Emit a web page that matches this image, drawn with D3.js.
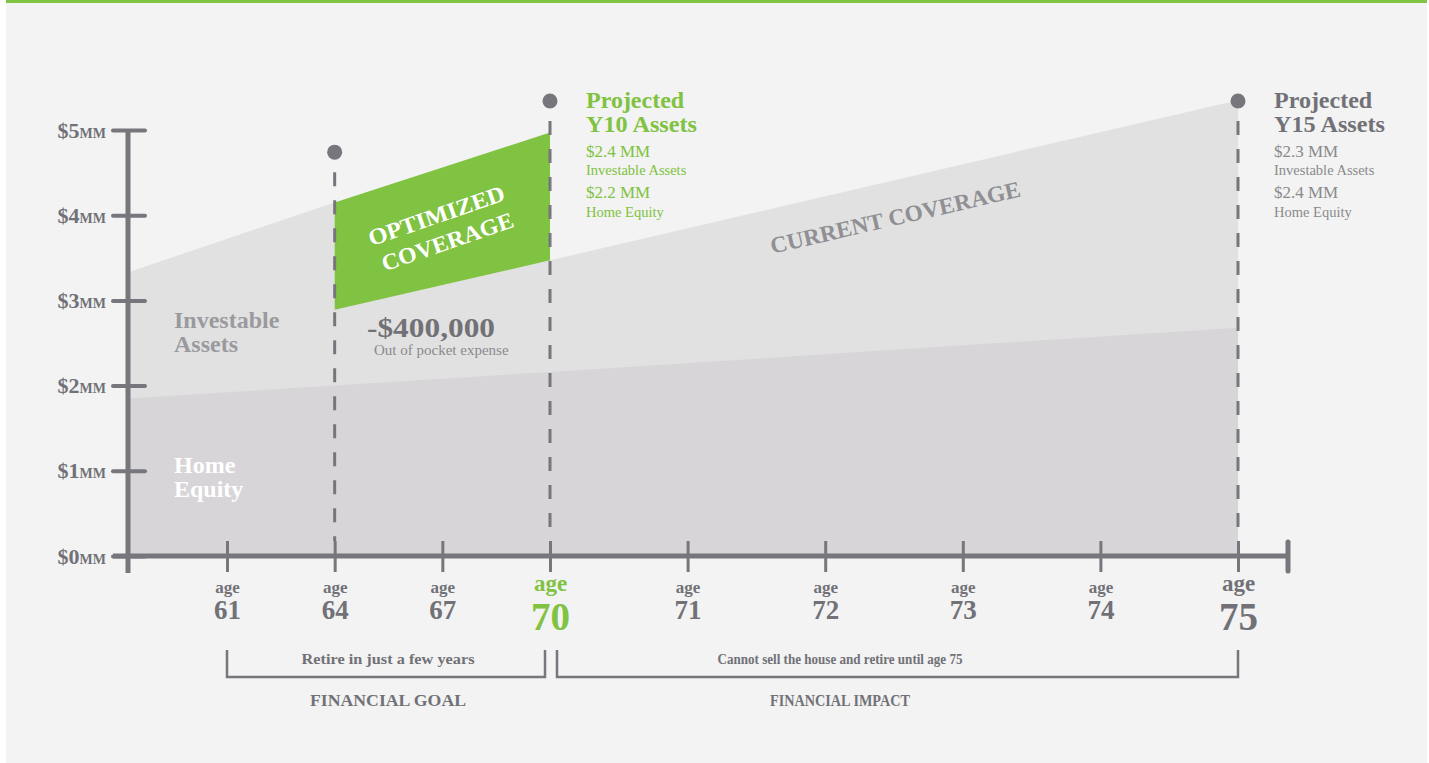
<!DOCTYPE html>
<html>
<head>
<meta charset="utf-8">
<script src="https://cdn.jsdelivr.net/npm/d3@7"></script>
<style>
  body { margin: 0; background: #ffffff; }
  svg { display: block; font-family: "Liberation Serif", "Times New Roman", serif; }
</style>
</head>
<body>
<svg id="chart" width="1429" height="763"></svg>
<script>
// ---- data ($MM by age) ----
const ages = [61, 64, 67, 70, 71, 72, 73, 74, 75];
const bigAges = [70, 75];
const yTicks = [0, 1, 2, 3, 4, 5];
const startAge = 58.25;

const homeEquity = [
  { age: 58.25, v: 1.85 },
  { age: 70, v: 2.16 },
  { age: 75, v: 2.68 }
];
const currentTotal = [
  { age: 58.25, v: 3.33 },
  { age: 64, v: 4.15 },
  { age: 70, v: 3.47 },
  { age: 75, v: 5.35 }
];
const optimized = [
  { age: 64, top: 4.15, bottom: 2.89 },
  { age: 70, top: 4.97, bottom: 3.47 }
];
const markers = [
  { age: 64, v: 4.74 },
  { age: 70, v: 5.34 },
  { age: 75, v: 5.34 }
];
const callouts = [
  { age: 70, title: ["Projected", "Y10 Assets"], items: [["$2.4 MM", "Investable Assets"], ["$2.2 MM", "Home Equity"]] },
  { age: 75, title: ["Projected", "Y15 Assets"], items: [["$2.3 MM", "Investable Assets"], ["$2.4 MM", "Home Equity"]] }
];
const brackets = [
  { from: 61, to: 70, text: "Retire in just a few years", title: "FINANCIAL GOAL" },
  { from: 70, to: 75, text: "Cannot sell the house and retire until age 75", title: "FINANCIAL IMPACT" }
];

const GREEN = "#80c241";
const AXIS = "#76767c";
const DARK = "#717177";
const SOFT = "#8a8a8e";
const FONT = '"Liberation Serif", "Times New Roman", serif';

const svg = d3.select("#chart");

// panel
svg.append("rect").attr("x", 6).attr("y", 0).attr("width", 1421).attr("height", 763).attr("fill", "#f2f3f2");
svg.append("rect").attr("x", 6).attr("y", 0).attr("width", 1421).attr("height", 3).attr("fill", GREEN);

const x = d3.scaleLinear().domain([61, 70, 75]).range([227, 550, 1238]);
const y = d3.scaleLinear().domain([0, 5]).range([556, 130]);

// areas
const area = d3.area().x(d => x(d.age)).y0(y(0)).y1(d => y(d.v));
svg.append("path").datum(currentTotal).attr("fill", "#e1e1e1").attr("d", area);
svg.append("path").datum(homeEquity).attr("fill", "#d7d5d8").attr("d", area);

const band = d3.area().x(d => x(d.age)).y0(d => y(d.bottom)).y1(d => y(d.top));
svg.append("path").datum(optimized).attr("fill", GREEN).attr("d", band);

// dashed markers
markers.forEach(m => {
  svg.append("line")
    .attr("x1", x(m.age)).attr("x2", x(m.age))
    .attr("y1", y(m.v) + 20).attr("y2", y(0) - 15)
    .attr("stroke", AXIS).attr("stroke-width", 3)
    .attr("stroke-dasharray", "14 14");
  svg.append("circle").attr("cx", x(m.age)).attr("cy", y(m.v)).attr("r", 7.5).attr("fill", AXIS);
});

// area labels
const lbl = (tx, ty, str, size, color, weight = "bold") =>
  svg.append("text").attr("x", tx).attr("y", ty).attr("font-size", size)
    .attr("font-weight", weight).attr("fill", color).text(str);

lbl(174, 328, "Investable", 24, "#9a9a9e");
lbl(174, 352, "Assets", 24, "#9a9a9e");
lbl(174, 473, "Home", 24, "#ffffff");
lbl(174, 497, "Equity", 24, "#ffffff");

lbl(367, 337, "-$400,000", 27, DARK).attr("textLength", 128).attr("lengthAdjust", "spacingAndGlyphs");
lbl(374, 355, "Out of pocket expense", 15, SOFT, "normal");

// rotated labels
[["OPTIMIZED", 439, 223, 143], ["COVERAGE", 450, 249, 138]].forEach(([s, cx, cy, w]) => {
  svg.append("text").attr("transform", `translate(${cx},${cy}) rotate(-19)`)
    .attr("text-anchor", "middle").attr("font-size", 23).attr("font-weight", "bold")
    .attr("fill", "#ffffff").attr("textLength", w).attr("lengthAdjust", "spacingAndGlyphs").text(s);
});
svg.append("text").attr("transform", "translate(897,225) rotate(-13)")
  .attr("text-anchor", "middle").attr("font-size", 23).attr("font-weight", "bold")
  .attr("fill", "#8f8f94").attr("textLength", 256).attr("lengthAdjust", "spacingAndGlyphs")
  .text("CURRENT COVERAGE");

// callouts
callouts.forEach((c, i) => {
  const cx = x(c.age) + 36;
  const main = i === 0 ? GREEN : DARK;
  const sub = i === 0 ? GREEN : SOFT;
  lbl(cx, 108, c.title[0], 24, main);
  lbl(cx, 132, c.title[1], 24, main).attr("textLength", 111).attr("lengthAdjust", "spacingAndGlyphs");
  c.items.forEach((it, j) => {
    lbl(cx, 157 + j * 41, it[0], 17, sub, "normal");
    lbl(cx, 175 + j * 42, it[1], 14.5, sub, "normal");
  });
});

// y axis
const yAxis = d3.axisLeft(y).tickValues(yTicks).tickSize(0).tickPadding(22).tickFormat("");
const gy = svg.append("g").attr("transform", `translate(128,0)`).call(yAxis)
  .attr("font-family", FONT).attr("font-size", null);
gy.select(".domain").remove();
gy.selectAll(".tick").each(function (d) {
  const t = d3.select(this);
  t.append("line").attr("x1", -15).attr("x2", 17)
    .attr("stroke", AXIS).attr("stroke-width", 4).attr("stroke-linecap", "round");
  const tx = t.append("text").attr("x", -22).attr("y", 7).attr("text-anchor", "end")
    .attr("fill", DARK).attr("font-weight", "bold");
  tx.append("tspan").attr("font-size", 22).text("$" + d);
  tx.append("tspan").attr("font-size", 14).text("MM");
});
svg.append("line").attr("x1", 128).attr("x2", 128).attr("y1", y(5)).attr("y2", 573)
  .attr("stroke", AXIS).attr("stroke-width", 5);

// x axis
svg.append("line").attr("x1", 113).attr("x2", 1288).attr("y1", y(0)).attr("y2", y(0))
  .attr("stroke", AXIS).attr("stroke-width", 5);
svg.append("line").attr("x1", 1288).attr("x2", 1288).attr("y1", 542).attr("y2", 571)
  .attr("stroke", AXIS).attr("stroke-width", 5).attr("stroke-linecap", "round");

const xAxis = d3.axisBottom(x).tickValues(ages).tickSize(0).tickFormat("");
const gx = svg.append("g").attr("transform", `translate(0,${y(0)})`).call(xAxis)
  .attr("font-family", FONT).attr("font-size", null);
gx.select(".domain").remove();
gx.selectAll(".tick").each(function (d) {
  const t = d3.select(this);
  const big = bigAges.includes(d);
  const col = d === 70 ? GREEN : DARK;
  t.append("line").attr("y1", -15).attr("y2", 16).attr("stroke", AXIS).attr("stroke-width", 3);
  t.append("text").attr("y", big ? 35 : 37).attr("text-anchor", "middle").attr("font-weight", "bold")
    .attr("font-size", big ? 23 : 17).attr("fill", col).text("age");
  t.append("text").attr("y", big ? 74 : 63).attr("text-anchor", "middle").attr("font-weight", "bold")
    .attr("font-size", big ? 39 : 27).attr("fill", col).text(d);
});

// brackets
const bracketLayout = [
  { x1: x(61), x2: x(70) - 5, cx: 388, w1: 173, w2: 156 },
  { x1: x(70) + 7, x2: x(75), cx: 840, w1: 245, w2: 140 }
];
brackets.forEach((b, i) => {
  const L = bracketLayout[i];
  svg.append("path")
    .attr("d", `M${L.x1},650V677H${L.x2}V650`)
    .attr("fill", "none").attr("stroke", AXIS).attr("stroke-width", 2.5);
  svg.append("text").attr("x", L.cx).attr("y", 664).attr("text-anchor", "middle")
    .attr("font-weight", "bold").attr("font-size", 15).attr("fill", DARK)
    .attr("textLength", L.w1).attr("lengthAdjust", "spacingAndGlyphs").text(b.text);
  svg.append("text").attr("x", L.cx).attr("y", 706).attr("text-anchor", "middle")
    .attr("font-weight", "bold").attr("font-size", 17).attr("fill", DARK)
    .attr("textLength", L.w2).attr("lengthAdjust", "spacingAndGlyphs").text(b.title);
});
</script>
</body>
</html>
